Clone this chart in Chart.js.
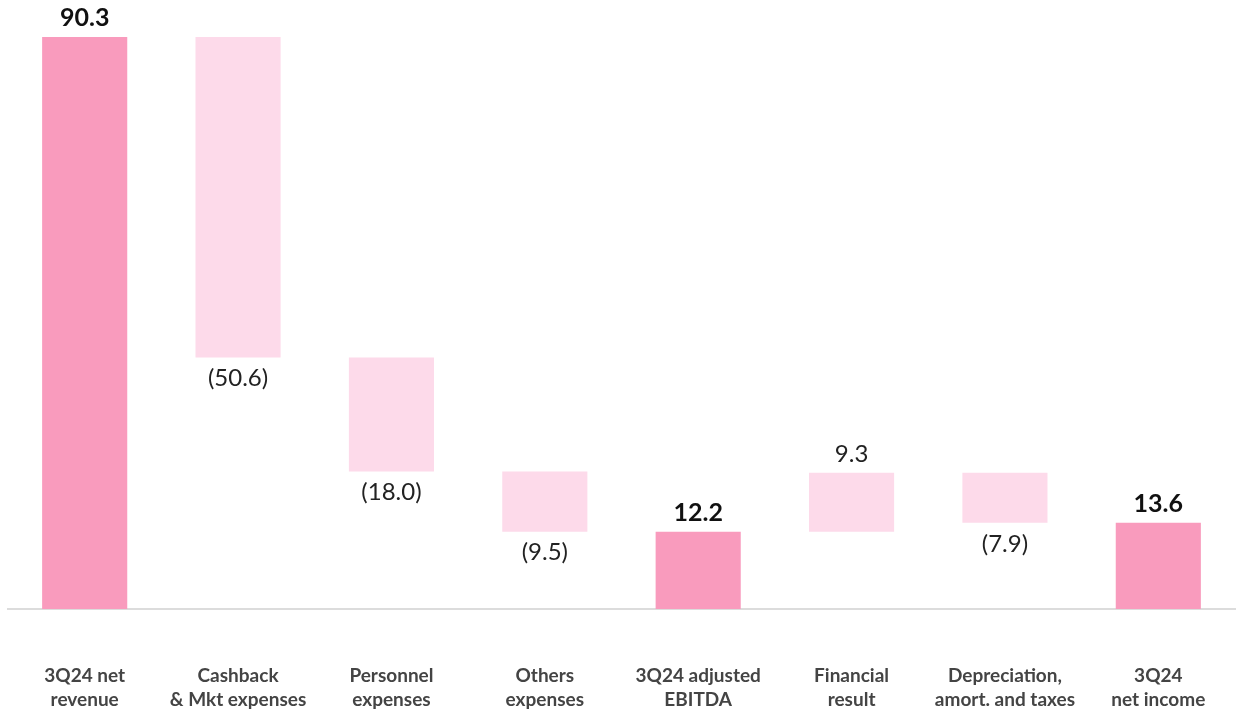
<!DOCTYPE html>
<html>
<head>
<meta charset="utf-8">
<script src="https://cdn.jsdelivr.net/npm/chart.js@4.4.1/dist/chart.umd.min.js"></script>
<style>
  html, body { margin: 0; padding: 0; background: #ffffff; overflow: hidden; }
  canvas { display: block; }
</style>
</head>
<body>
<canvas id="chart" width="1236" height="715"></canvas>
<script>
// Datos del gráfico (cascada)
const categories = [
    ['3Q24 net', 'revenue'],
    ['Cashback', '& Mkt expenses'],
    ['Personnel', 'expenses'],
    ['Others', 'expenses'],
    ['3Q24 adjusted', 'EBITDA'],
    ['Financial', 'result'],
    ['Depreciation,', 'amort. and taxes'],
    ['3Q24', 'net income']
];
const changes = [90.3, -50.6, -18.0, -9.5, 12.2, 9.3, -7.9, 13.6];
const isTotal = [true, false, false, false, true, false, false, true];

const TOTAL_COLOR = '#f99bbd';
const STEP_COLOR = '#fddaea';
const FONT = 'Lato, "Noto Sans", sans-serif';

// Construir los rangos flotantes a partir de los cambios
const ranges = [];
let running = 0;
changes.forEach((v, i) => {
    if (isTotal[i]) {
        running = v;
        ranges.push([0, v]);
    } else {
        const start = running;
        running = start + v;
        ranges.push([Math.min(start, running), Math.max(start, running)]);
    }
});

function formatValue(v, total) {
    const s = Math.abs(v).toFixed(1);
    if (total || v >= 0) return s;
    return '(' + s + ')';
}

// Plugin para las etiquetas de valor
const valueLabels = {
    id: 'valueLabels',
    afterDatasetsDraw(chart) {
        const ctx = chart.ctx;
        const meta = chart.getDatasetMeta(0);
        ctx.save();
        ctx.textAlign = 'center';
        ctx.textBaseline = 'middle';
        meta.data.forEach((bar, i) => {
            const v = changes[i];
            const total = isTotal[i];
            const text = formatValue(v, total);
            const top = Math.min(bar.y, bar.base);
            const bottom = Math.max(bar.y, bar.base);
            if (total) {
                ctx.font = 'bold 25px ' + FONT;
                ctx.fillStyle = '#111111';
                ctx.fillText(text, bar.x, top - 19);
            } else if (v >= 0) {
                ctx.font = '24px ' + FONT;
                ctx.fillStyle = '#222222';
                ctx.fillText(text, bar.x, top - 19);
            } else {
                ctx.font = '24px ' + FONT;
                ctx.fillStyle = '#222222';
                ctx.fillText(text, bar.x, bottom + 21);
            }
        });
        ctx.restore();
    }
};

new Chart(document.getElementById('chart').getContext('2d'), {
    type: 'bar',
    data: {
        labels: categories,
        datasets: [{
            data: ranges,
            backgroundColor: isTotal.map(t => t ? TOTAL_COLOR : STEP_COLOR),
            borderWidth: 0,
            borderSkipped: false,
            barPercentage: 0.555,
            categoryPercentage: 1.0
        }]
    },
    options: {
        responsive: false,
        animation: false,
        layout: { padding: { left: 8, right: 1, top: 1, bottom: 0 } },
        plugins: {
            legend: { display: false },
            tooltip: { enabled: false }
        },
        scales: {
            x: {
                grid: { display: false, drawTicks: false },
                border: { display: true, color: '#dcdcdc', width: 2 },
                ticks: {
                    padding: 55,
                    color: '#444444',
                    font: { family: FONT, size: 19, weight: 'bold', lineHeight: 1.26 },
                    maxRotation: 0,
                    autoSkip: false
                },
                afterFit(scale) {
                    // altura fija del eje y sin relleno lateral extra
                    scale.height = 106;
                    scale.paddingLeft = 0;
                    scale.paddingRight = 0;
                }
            },
            y: {
                display: false,
                min: 0,
                max: 96
            }
        }
    },
    plugins: [valueLabels]
});
</script>
</body>
</html>
